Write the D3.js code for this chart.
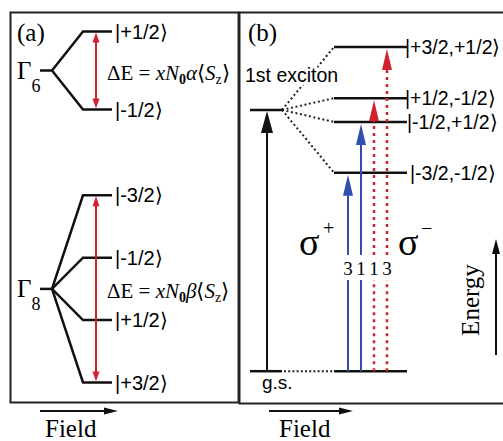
<!DOCTYPE html>
<html>
<head>
<meta charset="utf-8">
<script src="https://cdn.jsdelivr.net/npm/d3@7"></script>
<style>
  body { margin: 0; background: #fff; }
  .serif { font-family: "Liberation Serif", "Times New Roman", serif; }
  .sans { font-family: "Liberation Sans", Arial, sans-serif; }
</style>
</head>
<body>
<svg id="chart"></svg>
<script>
// ---- panel (a): valence / conduction band splitting
const bandNames = ['6', '8'];
const bandCenters = [85, 29];
const splitLetters = ['α', 'β'];
const gamma6States = ['|+1/2⟩', '|-1/2⟩'];
const gamma6Energy = [95, 75];
const gamma8States = ['|-3/2⟩', '|-1/2⟩', '|+1/2⟩', '|+3/2⟩'];
const gamma8Energy = [53, 37, 21, 5];

// ---- panel (b): exciton levels and transitions
const excitonStates = ['|+3/2,+1/2⟩', '|+1/2,-1/2⟩', '|-1/2,+1/2⟩', '|-3/2,-1/2⟩'];
const excitonEnergy = [91, 77.9, 71.8, 58.8];
const excitonCenter = 74.9;
const groundEnergy = 7.9;
const transitionTarget = [3, 2, 1, 0];
const transitionWeight = ['3', '1', '1', '3'];
const transitionPolar = ['+', '+', '-', '-'];

const width = 503, height = 441;
const RED = '#d3202f', BLUE = '#2f4fae';

const svg = d3.select('#chart')
    .attr('width', width)
    .attr('height', height);

// shared energy axis (arbitrary units) for both panels
const yscale = d3.scaleLinear()
    .domain([0, 100])
    .range([402, 12]);

function head(g, x, y, dir, len, half, color) {
    // dir: 'up' | 'down' | 'right'
    let pts;
    if (dir == 'up') pts = [[x, y], [x - half, y + len], [x + half, y + len]];
    else if (dir == 'down') pts = [[x, y], [x - half, y - len], [x + half, y - len]];
    else pts = [[x, y], [x - len, y - half], [x - len, y + half]];
    g.append('path')
        .attr('d', 'M' + pts.map(p => p.join(',')).join('L') + 'Z')
        .attr('fill', color);
}

// frames
svg.append('rect')
    .attr('x', 10.5).attr('y', 12.5)
    .attr('width', 228).attr('height', 390)
    .attr('fill', 'none').attr('stroke', '#222').attr('stroke-width', 2);
svg.append('rect')
    .attr('x', 239.5).attr('y', 12.5)
    .attr('width', 290).attr('height', 391)
    .attr('fill', 'none').attr('stroke', '#222').attr('stroke-width', 2);

// ================= panel (a)
const pa = svg.append('g');

pa.append('text').attr('class', 'serif')
    .attr('x', 17).attr('y', 41)
    .style('font-size', '25px')
    .text('(a)');

const bands = [
    { states: gamma6States, energy: gamma6Energy },
    { states: gamma8States, energy: gamma8Energy }
];

bands.forEach((b, i) => {
    const yc = yscale(bandCenters[i]);

    const gl = pa.append('text').attr('class', 'serif')
        .attr('x', 17).attr('y', yc + 8)
        .style('font-size', '25px');
    gl.append('tspan').text('Γ');
    gl.append('tspan').attr('dy', 13).style('font-size', '18px').text(bandNames[i]);

    pa.append('line')
        .attr('x1', 40).attr('x2', 52)
        .attr('y1', yc).attr('y2', yc)
        .attr('stroke', '#111').attr('stroke-width', 2.5);

    b.energy.forEach((e, j) => {
        const yl = yscale(e);
        pa.append('path')
            .attr('d', `M52,${yc}L83,${yl}L112,${yl}`)
            .attr('fill', 'none')
            .attr('stroke', '#111').attr('stroke-width', 2.5);
        pa.append('text').attr('class', 'sans')
            .attr('x', 115).attr('y', yl + 7)
            .style('font-size', '20px')
            .text(b.states[j]);
    });

    // splitting arrow
    const ytop = yscale(d3.max(b.energy)), ybot = yscale(d3.min(b.energy));
    pa.append('line')
        .attr('x1', 96).attr('x2', 96)
        .attr('y1', ytop + 6).attr('y2', ybot - 6)
        .attr('stroke', RED).attr('stroke-width', 2);
    head(pa, 96, ytop + 1, 'up', 10, 3.5, RED);
    head(pa, 96, ybot - 1, 'down', 10, 3.5, RED);

    const de = pa.append('text').attr('class', 'serif')
        .attr('x', 107).attr('y', yc + 9)
        .style('font-size', '21px');
    de.append('tspan').text('ΔE = ');
    de.append('tspan').style('font-style', 'italic').text('xN');
    de.append('tspan').attr('dy', 4).style('font-size', '14px').style('font-weight', 'bold').text('0');
    de.append('tspan').attr('dy', -4).style('font-style', 'italic').text(splitLetters[i]);
    de.append('tspan').text('⟨');
    de.append('tspan').style('font-style', 'italic').text('S');
    de.append('tspan').attr('dy', 4).style('font-size', '14px').text('z');
    de.append('tspan').attr('dy', -4).text('⟩');
});

// field arrow helper
function fieldArrow(x0, x1, tx) {
    svg.append('line')
        .attr('x1', x0).attr('x2', x1 - 10)
        .attr('y1', 411).attr('y2', 411)
        .attr('stroke', '#111').attr('stroke-width', 2);
    head(svg, x1, 411, 'right', 14, 3.5, '#111');
    svg.append('text').attr('class', 'serif')
        .attr('x', tx).attr('y', 437)
        .style('font-size', '25px')
        .text('Field');
}
fieldArrow(40, 118, 45);
fieldArrow(269, 353, 279);

// ================= panel (b)
const pb = svg.append('g');

pb.append('text').attr('class', 'serif')
    .attr('x', 248).attr('y', 41)
    .style('font-size', '25px')
    .text('(b)');

const yExc = yscale(excitonCenter);
const yGs = yscale(groundEnergy);

// dotted links from exciton to split levels
excitonEnergy.forEach(e => {
    pb.append('line')
        .attr('x1', 282).attr('y1', yExc)
        .attr('x2', 334).attr('y2', yscale(e))
        .attr('stroke', '#222').attr('stroke-width', 2)
        .attr('stroke-dasharray', '2,2.6');
});

pb.append('text').attr('class', 'sans')
    .attr('x', 245).attr('y', 82)
    .style('font-size', '19.5px')
    .attr('stroke', '#fff').attr('stroke-width', 6)
    .attr('paint-order', 'stroke')
    .text('1st exciton');

// exciton level
pb.append('line')
    .attr('x1', 250).attr('x2', 283)
    .attr('y1', yExc).attr('y2', yExc)
    .attr('stroke', '#111').attr('stroke-width', 2.5);

const labelShift = [0, 0, 2, 5];
excitonEnergy.forEach((e, j) => {
    const yl = yscale(e);
    pb.append('line')
        .attr('x1', 334).attr('x2', 407)
        .attr('y1', yl).attr('y2', yl)
        .attr('stroke', '#111').attr('stroke-width', 2.5);
    pb.append('text').attr('class', 'sans')
        .attr('x', 405 + labelShift[j]).attr('y', yl + 7)
        .style('font-size', '19.5px')
        .text(excitonStates[j]);
});

// ground state
pb.append('line')
    .attr('x1', 250).attr('x2', 282)
    .attr('y1', yGs).attr('y2', yGs)
    .attr('stroke', '#111').attr('stroke-width', 2.5);
pb.append('line')
    .attr('x1', 284).attr('x2', 333)
    .attr('y1', yGs).attr('y2', yGs)
    .attr('stroke', '#222').attr('stroke-width', 2)
    .attr('stroke-dasharray', '2,2.2');
pb.append('line')
    .attr('x1', 334).attr('x2', 407)
    .attr('y1', yGs).attr('y2', yGs)
    .attr('stroke', '#111').attr('stroke-width', 2.5);
pb.append('text').attr('class', 'sans')
    .attr('x', 262).attr('y', yGs + 18)
    .style('font-size', '19px')
    .text('g.s.');

// black absorption arrow
pb.append('line')
    .attr('x1', 267).attr('x2', 267)
    .attr('y1', yGs).attr('y2', yExc + 20)
    .attr('stroke', '#111').attr('stroke-width', 2);
head(pb, 267, yExc + 1, 'up', 22, 6, '#111');

// polarized transitions
const xT = d3.scalePoint()
    .domain(d3.range(transitionTarget.length))
    .range([348, 387]);

const gapTop = 255, gapBot = 280;
transitionTarget.forEach((t, k) => {
    const x = xT(k);
    const plus = transitionPolar[k] == '+';
    const color = plus ? BLUE : RED;
    const tip = yscale(excitonEnergy[t]) + 2;
    const segs = [[yGs, gapBot], [gapTop, tip + 20]];
    segs.forEach(s => {
        pb.append('line')
            .attr('x1', x).attr('x2', x)
            .attr('y1', s[0]).attr('y2', s[1])
            .attr('stroke', color)
            .attr('stroke-width', plus ? 2 : 2.5)
            .attr('stroke-dasharray', plus ? null : '3,4');
    });
    head(pb, x, tip, 'up', 21, 5, color);
    pb.append('text').attr('class', 'serif')
        .attr('x', x).attr('y', 275)
        .attr('text-anchor', 'middle')
        .style('font-size', '19px')
        .text(transitionWeight[k]);
});

// polarization labels
pb.append('text').attr('class', 'serif')
    .attr('x', 299).attr('y', 255)
    .style('font-size', '38px')
    .text('σ');
pb.append('text').attr('class', 'serif')
    .attr('x', 323).attr('y', 235)
    .style('font-size', '20px')
    .text('+');
pb.append('text').attr('class', 'serif')
    .attr('x', 398).attr('y', 255)
    .style('font-size', '38px')
    .text('σ');
pb.append('text').attr('class', 'serif')
    .attr('x', 421).attr('y', 235)
    .style('font-size', '20px')
    .text('−');

// energy axis arrow
pb.append('line')
    .attr('x1', 496).attr('x2', 496)
    .attr('y1', 355).attr('y2', 252)
    .attr('stroke', '#111').attr('stroke-width', 2);
head(pb, 496, 239, 'up', 15, 4, '#111');
pb.append('text').attr('class', 'serif')
    .attr('transform', 'translate(479,300) rotate(-90)')
    .attr('text-anchor', 'middle')
    .style('font-size', '25px')
    .text('Energy');
</script>
</body>
</html>
